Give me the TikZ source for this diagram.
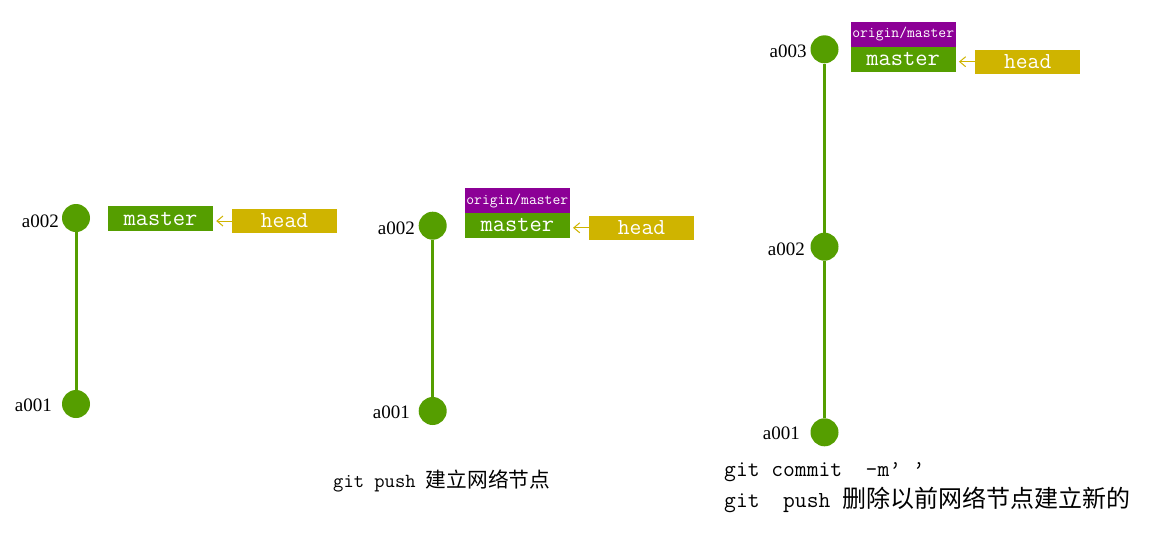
\documentclass[tikz,border=0pt]{standalone}
\usepackage{fontspec}
\newfontfamily\cjk{Noto Sans CJK SC}
\newfontfamily\lab{Liberation Serif}
\usetikzlibrary{arrows.meta}
\definecolor{gitgreen}{RGB}{85,158,0}
\definecolor{headyellow}{RGB}{207,180,0}
\definecolor{originpurple}{RGB}{140,0,150}
\begin{document}
\begin{tikzpicture}[x=1pt,y=-1pt,
  commit/.style={circle,fill=gitgreen,minimum size=28pt,inner sep=0pt},
  edge/.style={draw=gitgreen,line width=3pt},
  lbl/.style={anchor=east,inner sep=0pt,font=\lab\fontsize{19}{20}\selectfont},
  branchbox/.style={rectangle,fill=gitgreen,text=white,minimum width=105pt,minimum height=25pt,inner sep=0pt,font=\ttfamily\fontsize{23.8}{24}\selectfont},
  headbox/.style={rectangle,fill=headyellow,text=white,minimum width=105pt,minimum height=24pt,inner sep=0pt,font=\ttfamily\fontsize{22.9}{23}\selectfont},
  originbox/.style={rectangle,fill=originpurple,text=white,minimum width=105pt,minimum height=25pt,inner sep=0pt,font=\ttfamily\fontsize{15.2}{16}\selectfont},
  ptr/.style={draw=headyellow,line width=1pt,-{Straight Barb[length=6pt,width=10pt]},shorten >=3pt},
  cmd/.style={anchor=west,inner sep=0pt,align=left}
]
\useasboundingbox (0,0) rectangle (1152,541);

% ---------- panel 1 ----------
\node[commit] (p1b) at (76,218) {};
\node[commit] (p1a) at (76,404) {};
\draw[edge] (p1b) -- (p1a);
\node[lbl] (p1bl) at (59,221) {a002};
\node[lbl] (p1al) at (52,405) {a001};
\node[branchbox] (p1m) at (160.5,218.5) {master};
\node[headbox] (p1h) at (284.5,221) {head};
\draw[ptr] (p1h.west) -- (p1h.west -| p1m.east);

% ---------- panel 2 ----------
\node[commit] (p2b) at (432.7,225.7) {};
\node[commit] (p2a) at (432.7,411) {};
\draw[edge] (p2b) -- (p2a);
\node[lbl] (p2bl) at (415,228) {a002};
\node[lbl] (p2al) at (410,412) {a001};
\node[originbox] (p2o) at (517.3,200.5) {origin/master};
\node[branchbox] (p2m) at (517.3,225.3) {master};
\node[headbox] (p2h) at (641.5,227.8) {head};
\draw[ptr] (p2h.west) -- (p2h.west -| p2m.east);
\node[cmd] (p2t) at (333,481) {\ttfamily\fontsize{20}{22}\selectfont git push {\cjk\fontsize{20.7}{22}\selectfont 建立网络节点}};

% ---------- panel 3 ----------
\node[commit] (p3c) at (824.5,49.3) {};
\node[commit] (p3b) at (824.5,246.7) {};
\node[commit] (p3a) at (824.5,432.3) {};
\draw[edge] (p3c) -- (p3b);
\draw[edge] (p3b) -- (p3a);
\node[lbl] (p3cl) at (806.7,51) {a003};
\node[lbl] (p3bl) at (805,249) {a002};
\node[lbl] (p3al) at (800,433) {a001};
\node[originbox] (p3o) at (903.2,34.2) {origin/master};
\node[branchbox] (p3m) at (903.2,59.2) {master};
\node[headbox] (p3h) at (1027.7,61.7) {head};
\draw[ptr] (p3h.west) -- (p3h.west -| p3m.east);
\node[cmd] (p3t1) at (724,472) {\ttfamily\fontsize{22.9}{24}\selectfont git commit~~-m’~’};
\node[cmd] (p3t2) at (724,500) {\ttfamily\fontsize{22.9}{24}\selectfont git~~push {\cjk\fontsize{24}{26}\selectfont 删除以前网络节点建立新的}};
\end{tikzpicture}
\end{document}
